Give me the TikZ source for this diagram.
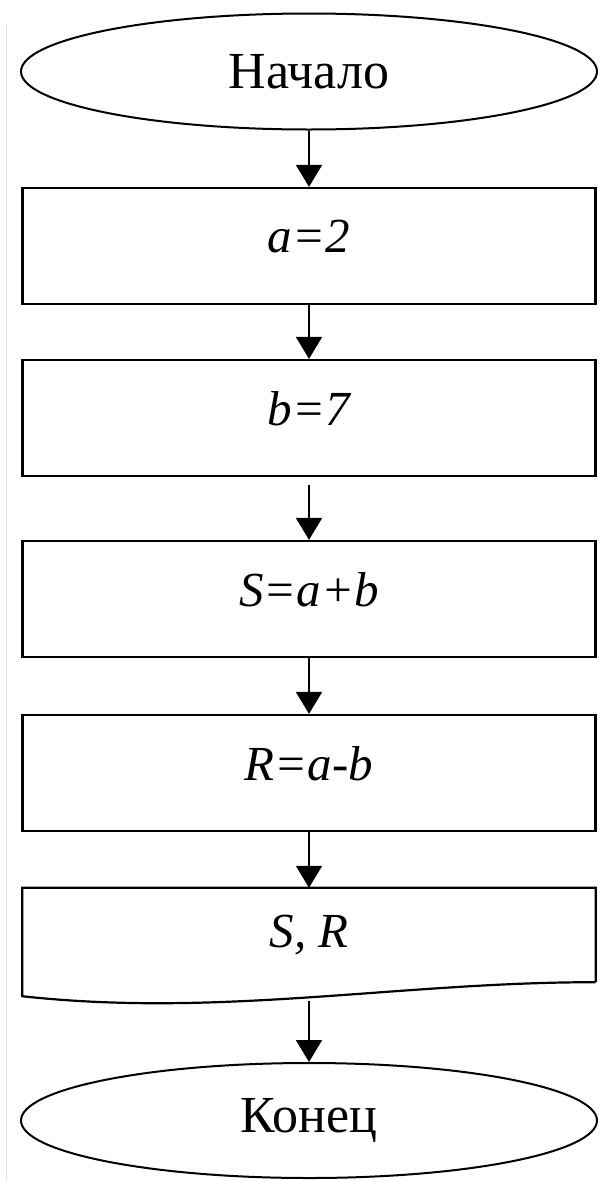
\documentclass[tikz,border=0pt]{standalone}
\usepackage{fontspec}
\setmainfont{Liberation Serif}
\usetikzlibrary{shapes.geometric,arrows.meta}
\begin{document}
\begin{tikzpicture}[x=1pt,y=-1pt,
  every node/.style={font=\fontsize{52}{60}\selectfont},
  term/.style={ellipse, draw, line width=2pt, minimum width=576pt, minimum height=116pt, inner sep=0pt},
  proc/.style={rectangle, draw, line width=2.2pt, minimum width=573pt, minimum height=116pt, inner sep=0pt},
  lbl/.style={font=\fontsize{49}{58}\selectfont\itshape, yshift=9pt},
  flow/.style={line width=1.8pt, -{Triangle[width=26pt,length=22pt]}}]
\useasboundingbox (0,0) rectangle (600,1181);
\draw[black!12, line width=1pt] (6,25) -- (6,1181);
\node[term] (start) at (309,71.5) {Начало};
\node[proc, label={[lbl]center:a=2}] (a) at (309,246) {};
\node[proc, label={[lbl]center:b=7}] (b) at (309,418) {};
\node[proc, label={[lbl]center:S=a+b}] (s) at (309,599) {};
\node[proc, label={[lbl]center:R=a-b}] (r) at (309,773) {};
\node[minimum width=573pt, minimum height=94pt, inner sep=0pt, font=\fontsize{49}{58}\selectfont\itshape] (out) at (309,935) {S, R};
\draw[line width=2.2pt, line join=miter] (out.south east) -- (out.north east) -- (out.north west) -- ([yshift=-14pt]out.south west) .. controls (220,1018) and (400,982) .. (out.south east);
\coordinate (outb) at (309,1001);
\node[term, minimum height=115pt] (end) at (309,1120.5) {Конец};
\draw[flow] (start) -- (a);
\draw[flow] (a) -- (b);
\draw[flow] ([yshift=-8pt]b.south) -- (s);
\draw[flow] (s) -- (r);
\draw[flow] (r) -- (out);
\draw[flow] (outb) -- (end);
\end{tikzpicture}
\end{document}
